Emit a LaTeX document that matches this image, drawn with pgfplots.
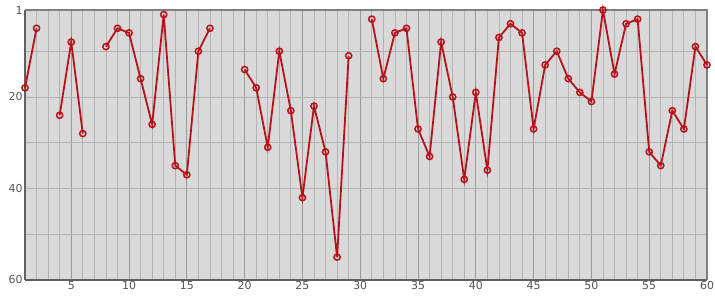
\documentclass[border=0pt]{standalone}
\usepackage{pgfplots}
\pgfplotsset{compat=1.18}
\usepackage{fontspec}
\setmainfont{DejaVu Sans}
\definecolor{bg}{HTML}{D9D9D9}
\definecolor{gmin}{HTML}{B3B3B3}
\definecolor{gmaj}{HTML}{9A9A9A}
\definecolor{lred}{HTML}{B5121B}
\definecolor{tickc}{HTML}{555555}
\begin{document}
\begin{tikzpicture}[x=1bp,y=1bp]
\path[use as bounding box] (-25bp,-20bp) rectangle (690bp,280bp);
\begin{axis}[
  at={(0,0)}, anchor=south west,
  scale only axis, width=682bp, height=270bp,
  xmin=1, xmax=60, ymin=1, ymax=60,
  y dir=reverse,
  xtick={5,10,...,60}, minor xtick={1,...,60},
  ytick={1,20,40,60}, minor ytick={10,30,50},
  grid=both,
  major x grid style={gmaj, line width=0.8bp},
  minor x grid style={gmin, line width=0.8bp},
  major y grid style={gmin, line width=0.8bp},
  minor y grid style={gmin, line width=0.8bp},
  axis background/.style={fill=bg},
  axis x line*=bottom, axis y line*=left,
  axis line style={color=black!62, line width=1.6bp},
  x axis line style={-}, y axis line style={-},
  tick style={draw=none},
  tick label style={font=\fontsize{11}{13}\selectfont, text=tickc},
  /pgf/number format/assume math mode=true,
  xticklabel style={yshift=2bp},
  yticklabel style={xshift=1bp},
  unbounded coords=jump,
  clip=false,
]
\draw[black!50, line width=1.3bp] (rel axis cs:0,1) -- (rel axis cs:1,1) -- (rel axis cs:1,0);
\addplot[color=lred, line width=1.8bp, mark=o, mark size=3.1bp,
  mark options={fill=white, line width=1.5bp}] coordinates {
(1,18) (2,5) (3,nan) (4,24) (5,8) (6,28) (7,nan) (8,9) (9,5) (10,6)
(11,16) (12,26) (13,2) (14,35) (15,37) (16,10) (17,5) (18,nan) (19,nan) (20,14)
(21,18) (22,31) (23,10) (24,23) (25,42) (26,22) (27,32) (28,55) (29,11) (30,nan)
(31,3) (32,16) (33,6) (34,5) (35,27) (36,33) (37,8) (38,20) (39,38) (40,19)
(41,36) (42,7) (43,4) (44,6) (45,27) (46,13) (47,10) (48,16) (49,19) (50,21)
(51,1) (52,15) (53,4) (54,3) (55,32) (56,35) (57,23) (58,27) (59,9) (60,13)
};
\end{axis}
\end{tikzpicture}
\end{document}
